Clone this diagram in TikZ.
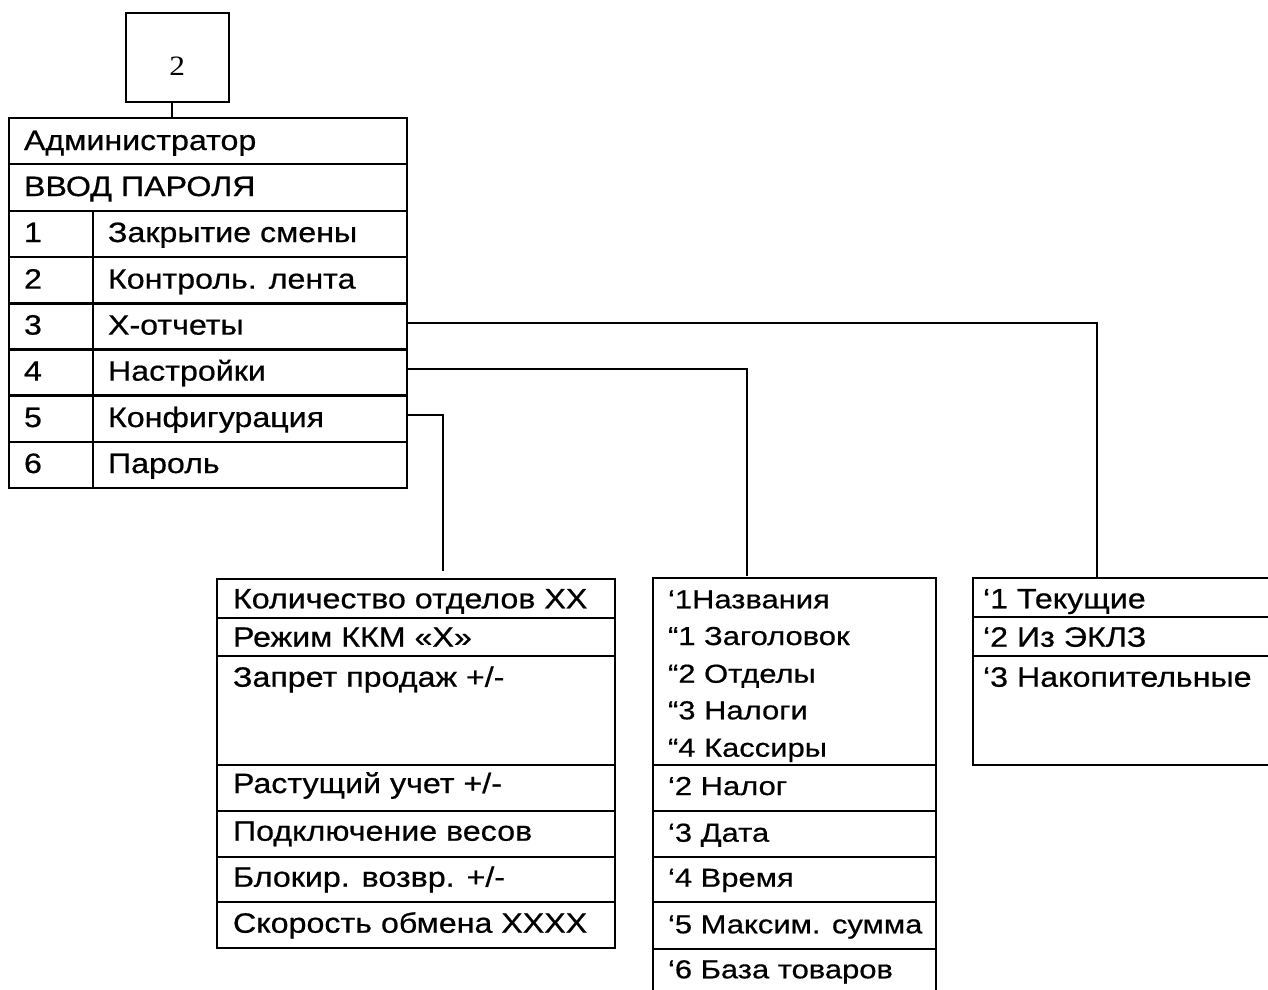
\documentclass[tikz,border=0pt]{standalone}
\usepackage{fontspec}
\setmainfont{Liberation Sans}[FakeStretch=1.15,FakeBold=0.6]
\newfontfamily\midfont{Liberation Sans}[FakeStretch=1.19,FakeBold=0.6]
\newfontfamily\serifnum{Liberation Serif}[FakeStretch=1.12]
\begin{document}
\begin{tikzpicture}[x=1pt,y=-1pt,
  cell/.style={draw, line width=2.2pt, anchor=north west, inner sep=0pt, outer sep=0pt},
  txt/.style={anchor=base west, inner sep=0pt, outer sep=0pt, font=\fontsize{28}{28}\selectfont},
  mtxt/.style={txt, font=\midfont\fontsize{26}{26}\selectfont},
  conn/.style={line width=2.2pt}]
\useasboundingbox (0,0) rectangle (1268,989);
\clip (0,0) rectangle (1268,989);
% top box
\node[cell, minimum width=103pt, minimum height=88.4pt] (b2) at (126,13.3) {};
\node[anchor=base, inner sep=0pt, font=\serifnum\fontsize{28}{28}\selectfont] (b2t) at (177.3,75) {2};
% main table
\node[cell, minimum width=398pt, minimum height=46pt] (adm) at (9.3,118.3) {};
\node[txt] (admt) at (24,150) {Администратор};
\node[cell, minimum width=398pt, minimum height=46.4pt] (pw) at (9.3,164.3) {};
\node[txt] (pwt) at (24,196) {ВВОД ПАРОЛЯ};
\foreach \i/\y/\s in {1/210.7/Закрытие смены, 2/257.3/Контроль. лента, 3/303.3/X-отчеты, 4/349.3/Настройки, 5/395.7/Конфигурация, 6/441.7/Пароль}{
  \node[cell, minimum width=83.4pt, minimum height=46.1pt] (n\i) at (9.3,\y) {};
  \node[cell, minimum width=314.6pt, minimum height=46.1pt] (r\i) at (92.7,\y) {};
  \node[txt] (nt\i) at (24,\y+31.3) {\i};
  \node[txt] (rt\i) at (108,\y+31.3) {\s};
}
% left lower box (Конфигурация)
\node[cell, minimum width=398pt, minimum height=38.4pt] (k1) at (217,579.3) {};
\node[txt] (k1t) at (233,608.3) {Количество отделов XX};
\node[cell, minimum width=398pt, minimum height=38pt] (k2) at (217,617.7) {};
\node[txt] (k2t) at (233,646.7) {Режим ККМ «X»};
\node[cell, minimum width=398pt, minimum height=109.3pt] (k3) at (217,655.7) {};
\node[txt] (k3t) at (233,686.7) {Запрет продаж +/-};
\node[cell, minimum width=398pt, minimum height=45.7pt] (k4) at (217,765) {};
\node[txt] (k4t) at (233,793) {Растущий учет +/-};
\node[cell, minimum width=398pt, minimum height=46pt] (k5) at (217,810.7) {};
\node[txt] (k5t) at (233,840.7) {Подключение весов};
\node[cell, minimum width=398pt, minimum height=45.3pt] (k6) at (217,856.7) {};
\node[txt] (k6t) at (233,886.7) {Блокир. возвр. +/-};
\node[cell, minimum width=398pt, minimum height=46pt] (k7) at (217,902) {};
\node[txt] (k7t) at (233,932.7) {Скорость обмена XXXX};
% middle box (Настройки)
\node[cell, minimum width=283pt, minimum height=187pt] (s1) at (653,578) {};
\node[mtxt] (s1a) at (668,608.3) {‘1Названия};
\node[mtxt] (s1b) at (668,645) {“1 Заголовок};
\node[mtxt] (s1c) at (668,682.7) {“2 Отделы};
\node[mtxt] (s1d) at (668,719.3) {“3 Налоги};
\node[mtxt] (s1e) at (668,756.7) {“4 Кассиры};
\node[cell, minimum width=283pt, minimum height=45.7pt] (s2) at (653,765) {};
\node[mtxt] (s2t) at (668,795) {‘2 Налог};
\node[cell, minimum width=283pt, minimum height=46pt] (s3) at (653,810.7) {};
\node[mtxt] (s3t) at (668,841.7) {‘3 Дата};
\node[cell, minimum width=283pt, minimum height=45.3pt] (s4) at (653,856.7) {};
\node[mtxt] (s4t) at (668,886.7) {‘4 Время};
\node[cell, minimum width=283pt, minimum height=47pt] (s5) at (653,902) {};
\node[mtxt] (s5t) at (668,933.3) {‘5 Максим. сумма};
\node[cell, minimum width=283pt, minimum height=50pt] (s6) at (653,949) {};
\node[mtxt] (s6t) at (668,978.3) {‘6 База товаров};
% right box (X-отчеты)
\node[cell, minimum width=310pt, minimum height=38.7pt] (x1) at (973,578) {};
\node[txt] (x1t) at (983,608.3) {‘1 Текущие};
\node[cell, minimum width=310pt, minimum height=39pt] (x2) at (973,616.7) {};
\node[txt] (x2t) at (983,646.7) {‘2 Из ЭКЛЗ};
\node[cell, minimum width=310pt, minimum height=109.3pt] (x3) at (973,655.7) {};
\node[txt] (x3t) at (983,686.7) {‘3 Накопительные};
% connectors
\coordinate (cx) at (1097,578);
\coordinate (cs) at (747,576);
\coordinate (ck) at (443,571);
\draw[conn] ([xshift=-5.2pt]b2.south) -- ([xshift=-5.2pt]b2.south |- adm.north);
\draw[conn] ([yshift=3.5pt]r3.east) -| (cx);
\draw[conn] ([yshift=3.5pt]r4.east) -| (cs);
\draw[conn] ([yshift=3.5pt]r5.east) -| (ck);
\end{tikzpicture}
\end{document}
